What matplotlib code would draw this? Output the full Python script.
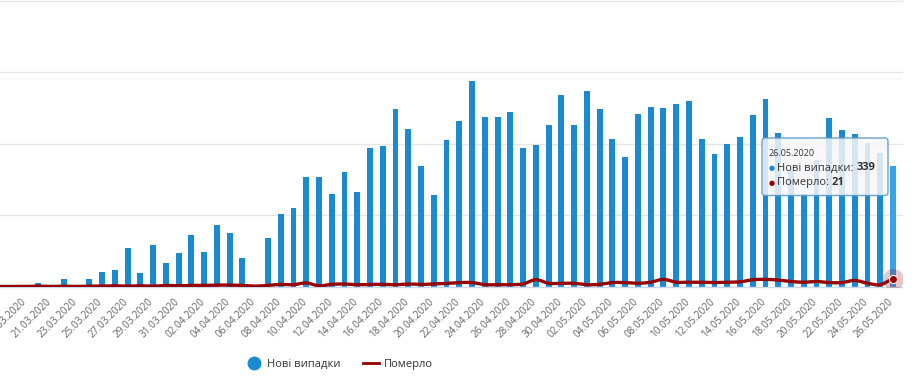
import numpy as np
import matplotlib
matplotlib.use("Agg")
import matplotlib.pyplot as plt
from matplotlib.lines import Line2D
from matplotlib.patches import FancyBboxPatch
import matplotlib.transforms as mtransforms

plt.rcParams['font.family'] = ['Open Sans', 'DejaVu Sans']

dates = ["17.03.2020", "18.03.2020", "19.03.2020", "20.03.2020", "21.03.2020", "22.03.2020",
         "23.03.2020", "24.03.2020", "25.03.2020", "26.03.2020", "27.03.2020", "28.03.2020",
         "29.03.2020", "30.03.2020", "31.03.2020", "01.04.2020", "02.04.2020", "03.04.2020",
         "04.04.2020", "05.04.2020", "06.04.2020", "07.04.2020", "08.04.2020", "09.04.2020",
         "10.04.2020", "11.04.2020", "12.04.2020", "13.04.2020", "14.04.2020", "15.04.2020",
         "16.04.2020", "17.04.2020", "18.04.2020", "19.04.2020", "20.04.2020", "21.04.2020",
         "22.04.2020", "23.04.2020", "24.04.2020", "25.04.2020", "26.04.2020", "27.04.2020",
         "28.04.2020", "29.04.2020", "30.04.2020", "01.05.2020", "02.05.2020", "03.05.2020",
         "04.05.2020", "05.05.2020", "06.05.2020", "07.05.2020", "08.05.2020", "09.05.2020",
         "10.05.2020", "11.05.2020", "12.05.2020", "13.05.2020", "14.05.2020", "15.05.2020",
         "16.05.2020", "17.05.2020", "18.05.2020", "19.05.2020", "20.05.2020", "21.05.2020",
         "22.05.2020", "23.05.2020", "24.05.2020", "25.05.2020", "26.05.2020"]

new_cases = [0, 0, 0, 9, 0, 20, 0, 20, 42, 45, 109, 39, 115, 67, 93, 143, 98, 171, 149, 79,
             2, 137, 202, 219, 306, 306, 258, 320, 266, 387, 393, 496, 440, 339, 255, 410,
             463, 575, 474, 474, 488, 387, 396, 452, 536, 452, 547, 496, 412, 362, 482, 502,
             499, 510, 519, 412, 370, 398, 418, 480, 525, 429, 325, 258, 354, 471, 438, 426,
             401, 375, 339]

deaths = [0, 0, 0, 1, 0, 1, 0, 1, 1, 2, 1, 2, 1, 3, 2, 3, 3, 4, 4, 3,
          1, 3, 6, 5, 10, 2, 6, 7, 5, 6, 6, 5, 7, 6, 7, 9, 11, 11, 5, 5,
          5, 7, 19, 9, 9, 9, 5, 6, 11, 11, 9, 12, 20, 12, 12, 12, 11, 12, 13, 19,
          20, 18, 14, 12, 14, 11, 11, 17, 9, 5, 21]

series_names = ["Нові випадки", "Померло"]
tooltip_date = "26.05.2020"

BLUE = "#1b8bd1"
BLUE_HOVER = "#3aa2e3"
RED = "#960000"

W, H = 917, 378
fig = plt.figure(figsize=(W / 100, H / 100), dpi=100)
ax = fig.add_axes([0, 91.5 / H, 902 / W, (286.5 - 1) / H])

x = np.arange(len(dates))
colors = [BLUE] * len(dates)
colors[-1] = BLUE_HOVER
ax.bar(x, new_cases, width=0.46, color=colors, zorder=2)

# smooth (Catmull-Rom) rendering of the deaths line
def catmull(xs, ys, n=12):
    xs = np.asarray(xs, float); ys = np.asarray(ys, float)
    px = np.concatenate([[xs[0]], xs, [xs[-1]]])
    py = np.concatenate([[ys[0]], ys, [ys[-1]]])
    ox, oy = [], []
    for i in range(1, len(px) - 2):
        t = np.linspace(0, 1, n, endpoint=False)
        p0, p1, p2, p3 = py[i - 1], py[i], py[i + 1], py[i + 2]
        yy = 0.5 * ((2 * p1) + (-p0 + p2) * t + (2 * p0 - 5 * p1 + 4 * p2 - p3) * t ** 2
                    + (-p0 + 3 * p1 - 3 * p2 + p3) * t ** 3)
        ox.extend(px[i] + (px[i + 1] - px[i]) * t)
        oy.extend(yy)
    ox.append(xs[-1]); oy.append(ys[-1])
    return np.array(ox), np.array(oy)

sx, sy = catmull(x, deaths)
ax.plot(sx, sy, color=RED, lw=2.4, zorder=4, solid_capstyle='round')
ax.scatter([x[-1]], [deaths[-1]], s=230, color=(0.59, 0.0, 0.0, 0.22), zorder=5, lw=0)
ax.scatter([x[-1]], [deaths[-1]], s=34, color=RED, zorder=6, edgecolor='white', lw=0.8)

ax.set_xlim(0.51, 70.7)
ax.set_ylim(0, 800)
for gy in [200, 400, 600, 800]:
    ax.axhline(gy, color="#e6e6e6", lw=1, zorder=0, clip_on=False)
ax.axhline(583, color="#f3f3f3", lw=1, zorder=0)

for s in ["top", "right", "left"]:
    ax.spines[s].set_visible(False)
ax.spines["bottom"].set_color("#ccd6eb")
ax.spines["bottom"].set_linewidth(1)
ax.set_yticks([])

tick_idx = list(range(0, len(dates), 2))
ax.set_xticks(tick_idx)
ax.set_xticklabels([dates[i] for i in tick_idx], rotation=45, ha='right',
                   fontsize=7.2, color="#666666")
ax.tick_params(axis='x', length=0, pad=7)
shift = mtransforms.ScaledTranslation(3 / 100, 0, fig.dpi_scale_trans)
for lab in ax.get_xticklabels():
    lab.set_transform(lab.get_transform() + shift)

# legend
handles = [Line2D([], [], marker='o', linestyle='none', markersize=9, color=BLUE),
           Line2D([], [], color=RED, lw=2)]
fig.legend(handles, series_names, loc='center', bbox_to_anchor=(0.37, 0.036), ncol=2,
           frameon=False, fontsize=8, handlelength=1.45, handletextpad=0.45,
           columnspacing=2.0, labelcolor="#333333")

# tooltip (in pixel coordinates)
ptr = mtransforms.Affine2D().scale(1 / W, 1 / H) + fig.transFigure
def py_(y):
    return H - y
box = FancyBboxPatch((762, py_(195.5)), 126, 57.5, boxstyle="round,pad=0,rounding_size=3",
                     transform=ptr, facecolor=(0.97, 0.97, 0.97, 0.85),
                     edgecolor=(0.35, 0.6, 0.8, 0.9), lw=1, zorder=10)
fig.patches.append(box)
fig.text(769, py_(153), tooltip_date, transform=ptr, fontsize=6.5, color="#333333",
         va='center', ha='left', zorder=11)
fig.text(769, py_(168), "●", transform=ptr, fontsize=5, color=BLUE, va='center', ha='left',
         zorder=11, family=['DejaVu Sans'])
fig.text(769, py_(183), "●", transform=ptr, fontsize=5, color=RED, va='center', ha='left',
         zorder=11, family=['DejaVu Sans'])
t1 = fig.text(777, py_(168), series_names[0] + ": ", transform=ptr, fontsize=8,
              color="#333333", va='center', ha='left', zorder=11)
t2 = fig.text(777, py_(183), series_names[1] + ": ", transform=ptr, fontsize=8,
              color="#333333", va='center', ha='left', zorder=11)
fig.canvas.draw()
r = fig.canvas.get_renderer()
b1 = t1.get_window_extent(r)
b2 = t2.get_window_extent(r)
fig.text(b1.x1 / W, py_(168) / H, str(new_cases[-1]), fontsize=8, fontweight='bold',
         color="#333333", va='center', ha='left', zorder=11)
fig.text(b2.x1 / W, py_(183) / H, str(deaths[-1]), fontsize=8, fontweight='bold',
         color="#333333", va='center', ha='left', zorder=11)

fig.savefig("out.png", dpi=100, facecolor="white")
